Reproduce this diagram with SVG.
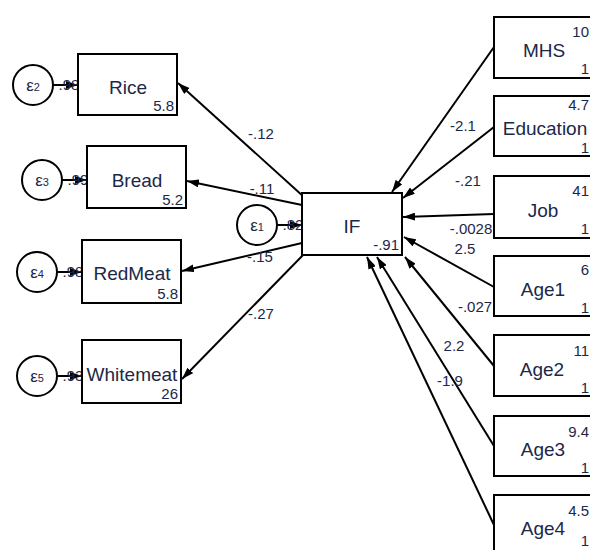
<svg xmlns="http://www.w3.org/2000/svg" width="590" height="550" viewBox="0 0 590 550">
<defs>
<marker id="ah" viewBox="0 0 12 8" refX="12" refY="4" markerWidth="12" markerHeight="8" markerUnits="userSpaceOnUse" orient="auto">
<path d="M0,0 L12,4 L0,8 Z" fill="#000"/>
</marker>
</defs>
<style>
.box{fill:#fff;stroke:#000;stroke-width:2}
.circ{fill:#fff;stroke:#000;stroke-width:2}
.ln{stroke:#000;stroke-width:2;fill:none;marker-end:url(#ah)}
.lbl{font-family:"Liberation Sans",Arial,sans-serif;font-size:19px;fill:#1c2848;text-anchor:middle}
.num{font-family:"Liberation Sans",Arial,sans-serif;font-size:15px;fill:#1c2848;text-anchor:end}
.coef{font-family:"Liberation Sans",Arial,sans-serif;font-size:15px;fill:#1c2848;text-anchor:middle}
.eps{font-family:"Liberation Sans",Arial,sans-serif;font-size:17px;fill:#1c2848;text-anchor:middle}
</style>
<rect width="590" height="550" fill="#fff"/>
<g id="connectors">
<line class="ln" x1="304" y1="197" x2="178" y2="83"/>
<line class="ln" x1="302" y1="205" x2="187" y2="181"/>
<line class="ln" x1="302" y1="243" x2="182" y2="271"/>
<line class="ln" x1="304" y1="254" x2="182" y2="379"/>
<line class="ln" x1="494" y1="47" x2="392" y2="192"/>
<line class="ln" x1="494" y1="127" x2="403" y2="198"/>
<line class="ln" x1="494" y1="214" x2="403" y2="217"/>
<line class="ln" x1="494" y1="287" x2="404" y2="237"/>
<line class="ln" x1="494" y1="366" x2="405" y2="257"/>
<line class="ln" x1="494" y1="446" x2="377" y2="257"/>
<line class="ln" x1="494" y1="525" x2="367" y2="257"/>
<line class="ln" x1="53" y1="85" x2="78" y2="85"/>
<line class="ln" x1="62" y1="180" x2="87" y2="180"/>
<line class="ln" x1="57" y1="272" x2="82" y2="272"/>
<line class="ln" x1="57" y1="376" x2="82" y2="376"/>
<line class="ln" x1="277" y1="225" x2="302" y2="225"/>
<text class="coef" x="261" y="139">-.12</text>
<text class="coef" x="262" y="194">-.11</text>
<text class="coef" x="260" y="262">-.15</text>
<text class="coef" x="261" y="319">-.27</text>
<text class="coef" x="463" y="131">-2.1</text>
<text class="coef" x="468" y="186">-.21</text>
<text class="coef" x="471" y="234">-.0028</text>
<text class="coef" x="465" y="254">2.5</text>
<text class="coef" x="475" y="312">-.027</text>
<text class="coef" x="454" y="351">2.2</text>
<text class="coef" x="450" y="386">-1.9</text>
<text class="coef" x="69" y="90">.98</text>
<text class="coef" x="78" y="185">.99</text>
<text class="coef" x="73" y="277">.98</text>
<text class="coef" x="73" y="381">.93</text>
<text class="coef" x="293" y="230">.82</text>
</g>
<g id="e2"><circle class="circ" cx="33" cy="85" r="20"/><text class="eps" x="33" y="91">ε<tspan font-size="11">2</tspan></text></g>
<g id="e3"><circle class="circ" cx="42" cy="180" r="20"/><text class="eps" x="42" y="186">ε<tspan font-size="11">3</tspan></text></g>
<g id="e4"><circle class="circ" cx="37" cy="272" r="20"/><text class="eps" x="37" y="278">ε<tspan font-size="11">4</tspan></text></g>
<g id="e5"><circle class="circ" cx="37" cy="376" r="20"/><text class="eps" x="37" y="382">ε<tspan font-size="11">5</tspan></text></g>
<g id="e1"><circle class="circ" cx="257" cy="225" r="20"/><text class="eps" x="257" y="231">ε<tspan font-size="11">1</tspan></text></g>
<g id="Rice"><rect class="box" x="78" y="54" width="99" height="61"/><text class="lbl" x="128" y="94">Rice</text><text class="num" x="174" y="111">5.8</text></g>
<g id="Bread"><rect class="box" x="87" y="146" width="99" height="62"/><text class="lbl" x="137" y="187">Bread</text><text class="num" x="183" y="205">5.2</text></g>
<g id="RedMeat"><rect class="box" x="82" y="240" width="99" height="63"/><text class="lbl" x="132" y="280">RedMeat</text><text class="num" x="178" y="299">5.8</text></g>
<g id="Whitemeat"><rect class="box" x="82" y="340" width="99" height="63"/><text class="lbl" x="132" y="381">Whitemeat</text><text class="num" x="178" y="399">26</text></g>
<g id="IF"><rect class="box" x="302" y="193" width="100" height="62"/><text class="lbl" x="352" y="233">IF</text><text class="num" x="399" y="250">-.91</text></g>
<g id="MHS"><rect class="box" x="494" y="17" width="100" height="61"/><text class="lbl" x="544" y="57">MHS</text><text class="num" x="589" y="37">10</text><text class="num" x="589" y="74">1</text></g>
<g id="Education"><rect class="box" x="494" y="96" width="100" height="60"/><text class="lbl" x="545" y="135">Education</text><text class="num" x="589" y="110">4.7</text><text class="num" x="589" y="153">1</text></g>
<g id="Job"><rect class="box" x="494" y="176" width="100" height="62"/><text class="lbl" x="543" y="217">Job</text><text class="num" x="589" y="196">41</text><text class="num" x="589" y="234">1</text></g>
<g id="Age1"><rect class="box" x="494" y="256" width="100" height="60"/><text class="lbl" x="543" y="296">Age1</text><text class="num" x="589" y="275">6</text><text class="num" x="589" y="313">1</text></g>
<g id="Age2"><rect class="box" x="494" y="335" width="100" height="61"/><text class="lbl" x="542" y="376">Age2</text><text class="num" x="589" y="356">11</text><text class="num" x="589" y="393">1</text></g>
<g id="Age3"><rect class="box" x="494" y="416" width="100" height="60"/><text class="lbl" x="543" y="456">Age3</text><text class="num" x="589" y="437">9.4</text><text class="num" x="589" y="473">1</text></g>
<g id="Age4"><rect class="box" x="494" y="495" width="100" height="62"/><text class="lbl" x="543" y="535">Age4</text><text class="num" x="589" y="516">4.5</text><text class="num" x="589" y="546">1</text></g>
</svg>
